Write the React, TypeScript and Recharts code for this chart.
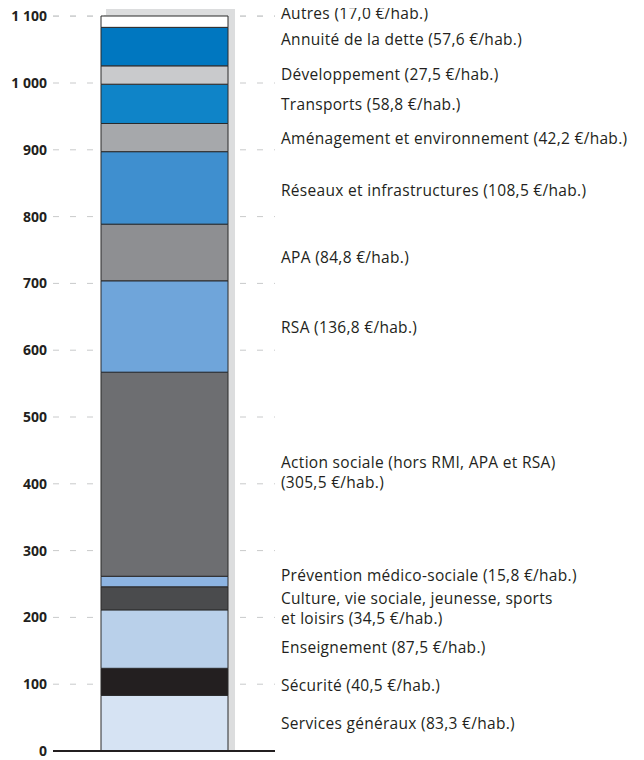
import React from 'react';
import { BarChart, Bar, XAxis, YAxis, CartesianGrid, ReferenceLine, LabelList } from 'recharts';

// Budget par habitant, de bas en haut de la colonne
const categories = [
  'Services généraux',
  'Sécurité',
  'Enseignement',
  'Culture, vie sociale, jeunesse, sports|et loisirs',
  'Prévention médico-sociale',
  'Action sociale (hors RMI, APA et RSA)|',
  'RSA',
  'APA',
  'Réseaux et infrastructures',
  'Aménagement et environnement',
  'Transports',
  'Développement',
  'Annuité de la dette',
  'Autres',
];
const values = [83.3, 40.5, 87.5, 34.5, 15.8, 305.5, 136.8, 84.8, 108.5, 42.2, 58.8, 27.5, 57.6, 17.0];
const yTicks = [0, 100, 200, 300, 400, 500, 600, 700, 800, 900, 1000, 1100];

const colors = [
  '#d6e3f3', '#231f20', '#b9d0ea', '#4a4b4d', '#8db4e2', '#6d6e71', '#6fa5da',
  '#8e8f92', '#3f8fcf', '#a6a8ab', '#0f84c8', '#c9cacc', '#0077c0', '#ffffff',
];
// small vertical nudges so labels don't collide
const labelNudge = [0, 3, 8, 10, -7, -2, 1, 5, 2, 0, 0, -1, -8, -9];

const FONT = '"Open Sans", sans-serif';
const INK = '#231f20';

const row: Record<string, number | string> = { name: 'total' };
categories.forEach((c, i) => {
  row[`s${i}`] = values[i];
});
const rows = [row];

const fmt = (v: number) => v.toFixed(1).replace('.', ',');
const fmtTick = (v: number) => String(v).replace(/\B(?=(\d{3})+(?!\d))/g, ' ');

const makeLabel = (i: number) => (props: any) => {
  const { y, height } = props;
  const text = `${categories[i]} (${fmt(values[i])} €/hab.)`;
  const lines = text.split('|').map(s => s.trim());
  const cy = Number(y) + Number(height) / 2 + labelNudge[i];
  const lh = 20;
  const top = cy - ((lines.length - 1) * lh) / 2;
  return (
    <text
      x={273}
      y={top}
      fill={INK}
      fontSize={15.5}
      letterSpacing={0.3}
      fontFamily={FONT}
      dominantBaseline="central"
    >
      {lines.map((l, k) => (
        <tspan key={k} x={273} y={top + k * lh}>{l}</tspan>
      ))}
    </text>
  );
};

const Shadow = (props: any) => (
  <rect x={props.x + 5} y={props.y - 7} width={props.width + 2} height={props.height + 7} fill="#dcddde" />
);

const App: React.FC = () => {
  return (
    <div style={{ marginTop: -8 }}>
      <BarChart
        width={636}
        height={760}
        data={rows}
        margin={{ top: 16, right: 369, bottom: 9, left: 0 }}
        barSize={127}
      >
        <CartesianGrid vertical={false} stroke="#c9cacb" strokeDasharray="6 11" />
        <XAxis dataKey="name" hide />
        <YAxis
          width={45}
          domain={[0, 1100]}
          ticks={yTicks}
          interval={0}
          axisLine={false}
          tickLine={false}
          tickMargin={0}
          tickFormatter={fmtTick}
          tick={{ fill: INK, fontSize: 14, fontWeight: 700, fontFamily: FONT }}
        />
        {categories.map((c, i) => (
          <Bar
            key={c}
            dataKey={`s${i}`}
            stackId="a"
            fill={colors[i]}
            stroke="#2a2a2b"
            strokeWidth={1}
            background={i === 0 ? Shadow : undefined}
            isAnimationActive={false}
          >
            <LabelList dataKey={`s${i}`} content={makeLabel(i)} />
          </Bar>
        ))}
        <ReferenceLine y={0} stroke={INK} strokeWidth={2} />
      </BarChart>
    </div>
  );
};

export default App;
